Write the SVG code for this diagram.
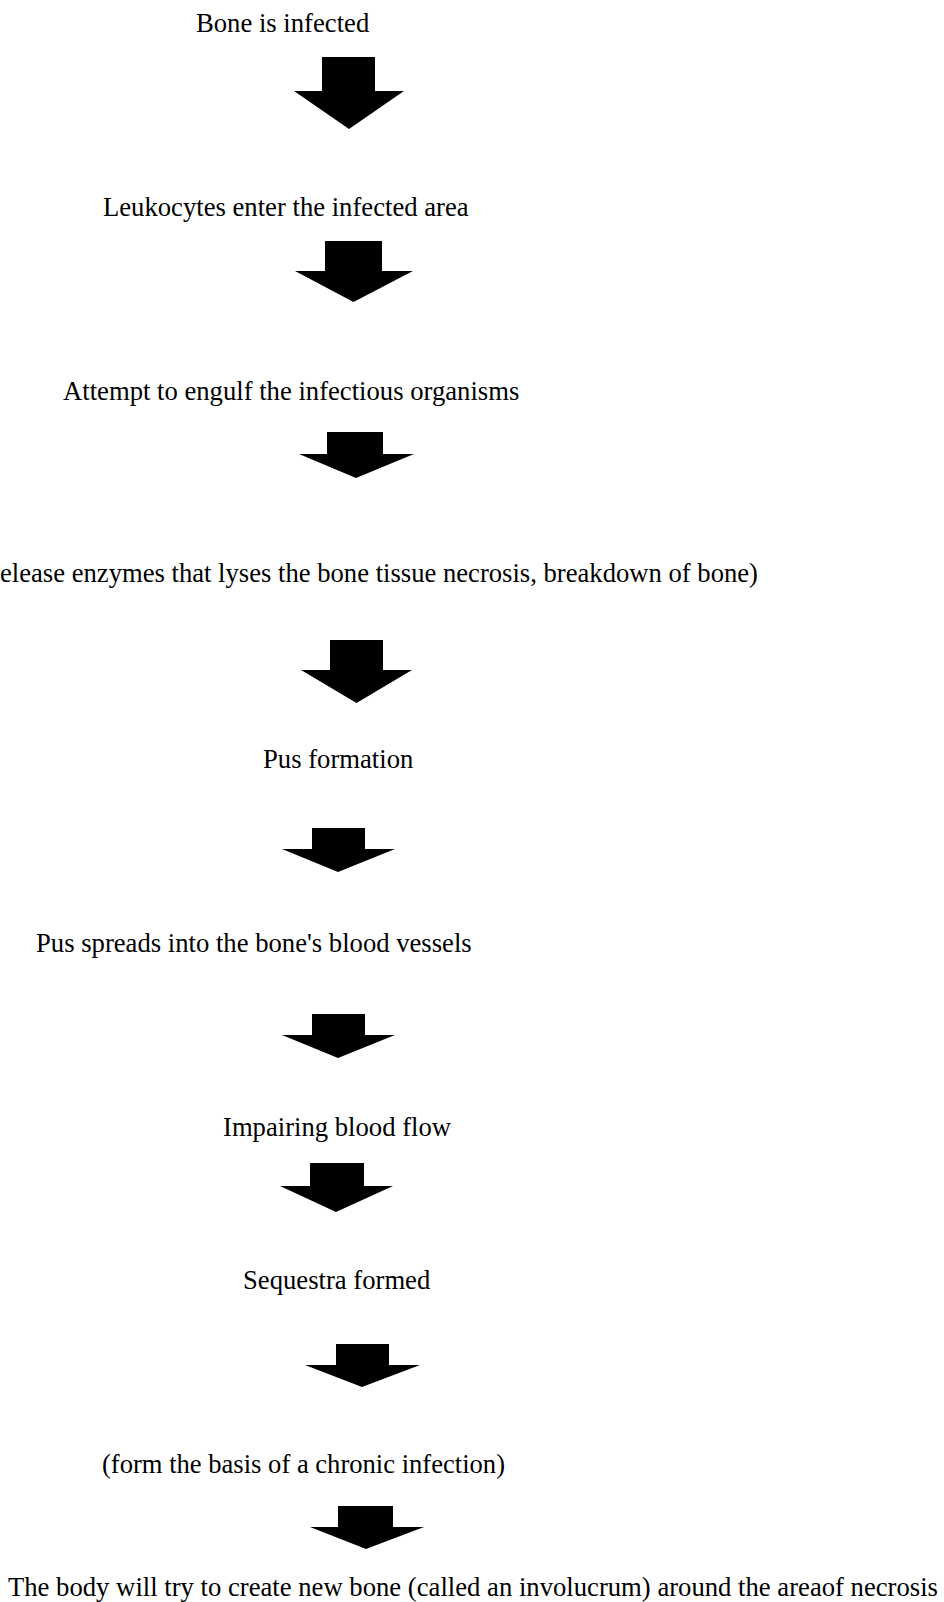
<svg xmlns="http://www.w3.org/2000/svg" width="944" height="1602" viewBox="0 0 944 1602">
<style>
text{font-family:"Liberation Serif","Times New Roman",serif;font-size:26.67px;fill:#000}
.arrow{fill:#000;stroke:none}
</style>
<rect width="944" height="1602" fill="#fff"/>
<g id="n1"><text x="196" y="32">Bone is infected</text></g>
<g id="n2"><text x="103" y="216">Leukocytes enter the infected area</text></g>
<g id="n3"><text x="63" y="400">Attempt to engulf the infectious organisms</text></g>
<g id="n4"><text x="0" y="582" textLength="758" lengthAdjust="spacingAndGlyphs">elease enzymes that lyses the bone tissue necrosis, breakdown of bone)</text></g>
<g id="n5"><text x="263" y="768">Pus formation</text></g>
<g id="n6"><text x="36" y="952">Pus spreads into the bone's blood vessels</text></g>
<g id="n7"><text x="223" y="1136">Impairing blood flow</text></g>
<g id="n8"><text x="243" y="1289">Sequestra formed</text></g>
<g id="n9"><text x="102" y="1473" textLength="403" lengthAdjust="spacingAndGlyphs">(form the basis of a chronic infection)</text></g>
<g id="n10"><text x="8" y="1596" textLength="930" lengthAdjust="spacingAndGlyphs">The body will try to create new bone (called an involucrum) around the areaof necrosis</text></g>
<g id="connectors">
<polygon class="arrow" points="322,57 375,57 375,91 404,91 349,129 294,91 322,91"/>
<polygon class="arrow" points="325,241 382,241 382,271 413,271 353.5,302 295,271 325,271"/>
<polygon class="arrow" points="327,432 383,432 383,454 414,454 356,478 299,454 327,454"/>
<polygon class="arrow" points="330,640 383,640 383,670 412,670 356.5,703 301,670 330,670"/>
<polygon class="arrow" points="312,828 365,828 365,849 395,849 338,872 282,849 312,849"/>
<polygon class="arrow" points="312,1014 365,1014 365,1035 395,1035 338,1058 282,1035 312,1035"/>
<polygon class="arrow" points="310,1163 364,1163 364,1186 393,1186 336,1212 280,1186 310,1186"/>
<polygon class="arrow" points="336,1344 389,1344 389,1365 420,1365 362,1387 305,1365 336,1365"/>
<polygon class="arrow" points="338,1506 393,1506 393,1527 424,1527 366,1549 310,1527 338,1527"/>
</g>
</svg>
